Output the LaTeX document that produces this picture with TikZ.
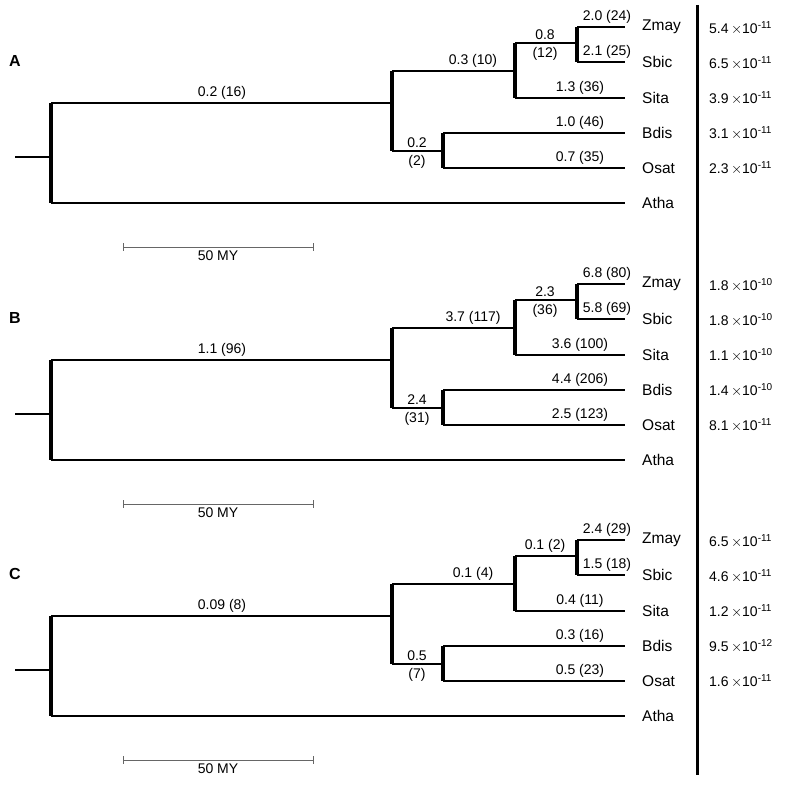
\documentclass[tikz,border=0pt]{standalone}
\usepackage{fontspec}
\setmainfont{Liberation Sans}
\begin{document}
\begin{tikzpicture}[x=1pt,y=-1pt,
  br/.style={line width=2.2pt},
  vt/.style={line width=3.6pt},
  lab/.style={font=\fontsize{14}{16}\selectfont, inner sep=1pt},
  tax/.style={font=\fontsize{15.5}{17}\selectfont, anchor=west, inner sep=1pt},
  rate/.style={font=\fontsize{14}{16}\selectfont, anchor=west, inner sep=1pt},
  sbar/.style={line width=0.9pt, draw=black!60}]
\useasboundingbox (0,0) rectangle (784,800);
\newcommand\drawpanel[2]{%
\begin{scope}[yshift=-#1pt]
  \coordinate (#2s) at (15,157);
  \coordinate (#2r) at (51,157);
  \coordinate (#2rt) at (51,103); \coordinate (#2rb) at (51,203);
  \coordinate (#2a) at (392,103);
  \coordinate (#2at) at (392,71); \coordinate (#2ab) at (392,151);
  \coordinate (#2b) at (515,71);
  \coordinate (#2bt) at (515,43); \coordinate (#2bb) at (515,98);
  \coordinate (#2c) at (577,43);
  \coordinate (#2ct) at (577,27); \coordinate (#2cb) at (577,62);
  \coordinate (#2d) at (443,151);
  \coordinate (#2dt) at (443,133); \coordinate (#2db) at (443,168);
  \node[tax] (#2zm) at (625,27) {\hspace*{16pt}Zmay};
  \node[tax] (#2sb) at (625,62) {\hspace*{16pt}Sbic};
  \node[tax] (#2si) at (625,98) {\hspace*{16pt}Sita};
  \node[tax] (#2bd) at (625,133) {\hspace*{16pt}Bdis};
  \node[tax] (#2os) at (625,168) {\hspace*{16pt}Osat};
  \node[tax] (#2at2) at (625,203) {\hspace*{16pt}Atha};
  \draw[br] (#2s) -- (#2r);
  \draw[vt] (#2rt) -- (#2rb);
  \draw[br] (#2rt) -- (#2a); \draw[br] (#2rb) -- (#2at2.west);
  \draw[vt] (#2at) -- (#2ab);
  \draw[br] (#2at) -- (#2b); \draw[br] (#2ab) -- (#2d);
  \draw[vt] (#2bt) -- (#2bb);
  \draw[br] (#2bt) -- (#2c); \draw[br] (#2bb) -- (#2si.west);
  \draw[vt] (#2ct) -- (#2cb);
  \draw[br] (#2ct) -- (#2zm.west); \draw[br] (#2cb) -- (#2sb.west);
  \draw[vt] (#2dt) -- (#2db);
  \draw[br] (#2dt) -- (#2bd.west); \draw[br] (#2db) -- (#2os.west);
  \node[font=\fontsize{16}{18}\selectfont\bfseries] (#2L) at (15,61) {\PL};
  \node[lab,anchor=south] (#2l1) at (222,101) {\LA};
  \node[lab,anchor=south] (#2l2) at (473,69) {\LB};
  \node[lab,anchor=south] (#2l3) at (545,41) {\LC};
  \node[lab,anchor=north] (#2l4) at (545,46) {\LD};
  \node[lab,anchor=south] (#2l5) at (607,25) {\LE};
  \node[lab,anchor=south] (#2l6) at (607,60) {\LF};
  \node[lab,anchor=south] (#2l7) at (580,96) {\LG};
  \node[lab,anchor=south] (#2l8) at (580,131) {\LH};
  \node[lab,anchor=south] (#2l9) at (417,149) {\LI};
  \node[lab,anchor=north] (#2l10) at (417,154) {\LJ};
  \node[lab,anchor=south] (#2l11) at (580,166) {\LK};
  \node[rate] (#2n1) at (708,28) {\NA};
  \node[rate] (#2n2) at (708,63) {\NB};
  \node[rate] (#2n3) at (708,98) {\NC};
  \node[rate] (#2n4) at (708,133) {\ND};
  \node[rate] (#2n5) at (708,168) {\NE};
  \coordinate (#2k1) at (123,247); \coordinate (#2k2) at (313,247);
  \draw[sbar] (#2k1) -- (#2k2);
  \draw[sbar] (123,243) -- (123,251); \draw[sbar] (313,243) -- (313,251);
  \node[lab,anchor=north] (#2my) at (218,250) {50 MY};
\end{scope}}
\newcommand\rt[2]{#1\,$\times$10$^{\mbox{\fontsize{10}{11}\selectfont #2}}$}
% Panel A
\def\PL{A}\def\LA{0.2 (16)}\def\LB{0.3 (10)}\def\LC{0.8}\def\LD{(12)}
\def\LE{2.0 (24)}\def\LF{2.1 (25)}\def\LG{1.3 (36)}\def\LH{1.0 (46)}
\def\LI{0.2}\def\LJ{(2)}\def\LK{0.7 (35)}
\def\NA{\rt{5.4}{-11}}\def\NB{\rt{6.5}{-11}}\def\NC{\rt{3.9}{-11}}\def\ND{\rt{3.1}{-11}}\def\NE{\rt{2.3}{-11}}
\drawpanel{0}{A}
% Panel B
\def\PL{B}\def\LA{1.1 (96)}\def\LB{3.7 (117)}\def\LC{2.3}\def\LD{(36)}
\def\LE{6.8 (80)}\def\LF{5.8 (69)}\def\LG{3.6 (100)}\def\LH{4.4 (206)}
\def\LI{2.4}\def\LJ{(31)}\def\LK{2.5 (123)}
\def\NA{\rt{1.8}{-10}}\def\NB{\rt{1.8}{-10}}\def\NC{\rt{1.1}{-10}}\def\ND{\rt{1.4}{-10}}\def\NE{\rt{8.1}{-11}}
\drawpanel{257}{B}
% Panel C
\def\PL{C}\def\LA{0.09 (8)}\def\LB{0.1 (4)}\def\LC{0.1 (2)}\def\LD{}
\def\LE{2.4 (29)}\def\LF{1.5 (18)}\def\LG{0.4 (11)}\def\LH{0.3 (16)}
\def\LI{0.5}\def\LJ{(7)}\def\LK{0.5 (23)}
\def\NA{\rt{6.5}{-11}}\def\NB{\rt{4.6}{-11}}\def\NC{\rt{1.2}{-11}}\def\ND{\rt{9.5}{-12}}\def\NE{\rt{1.6}{-11}}
\drawpanel{513}{C}
\coordinate (vtop) at (697,5); \coordinate (vbot) at (697,775);
\draw[line width=3pt] (vtop) -- (vbot);
\end{tikzpicture}
\end{document}
